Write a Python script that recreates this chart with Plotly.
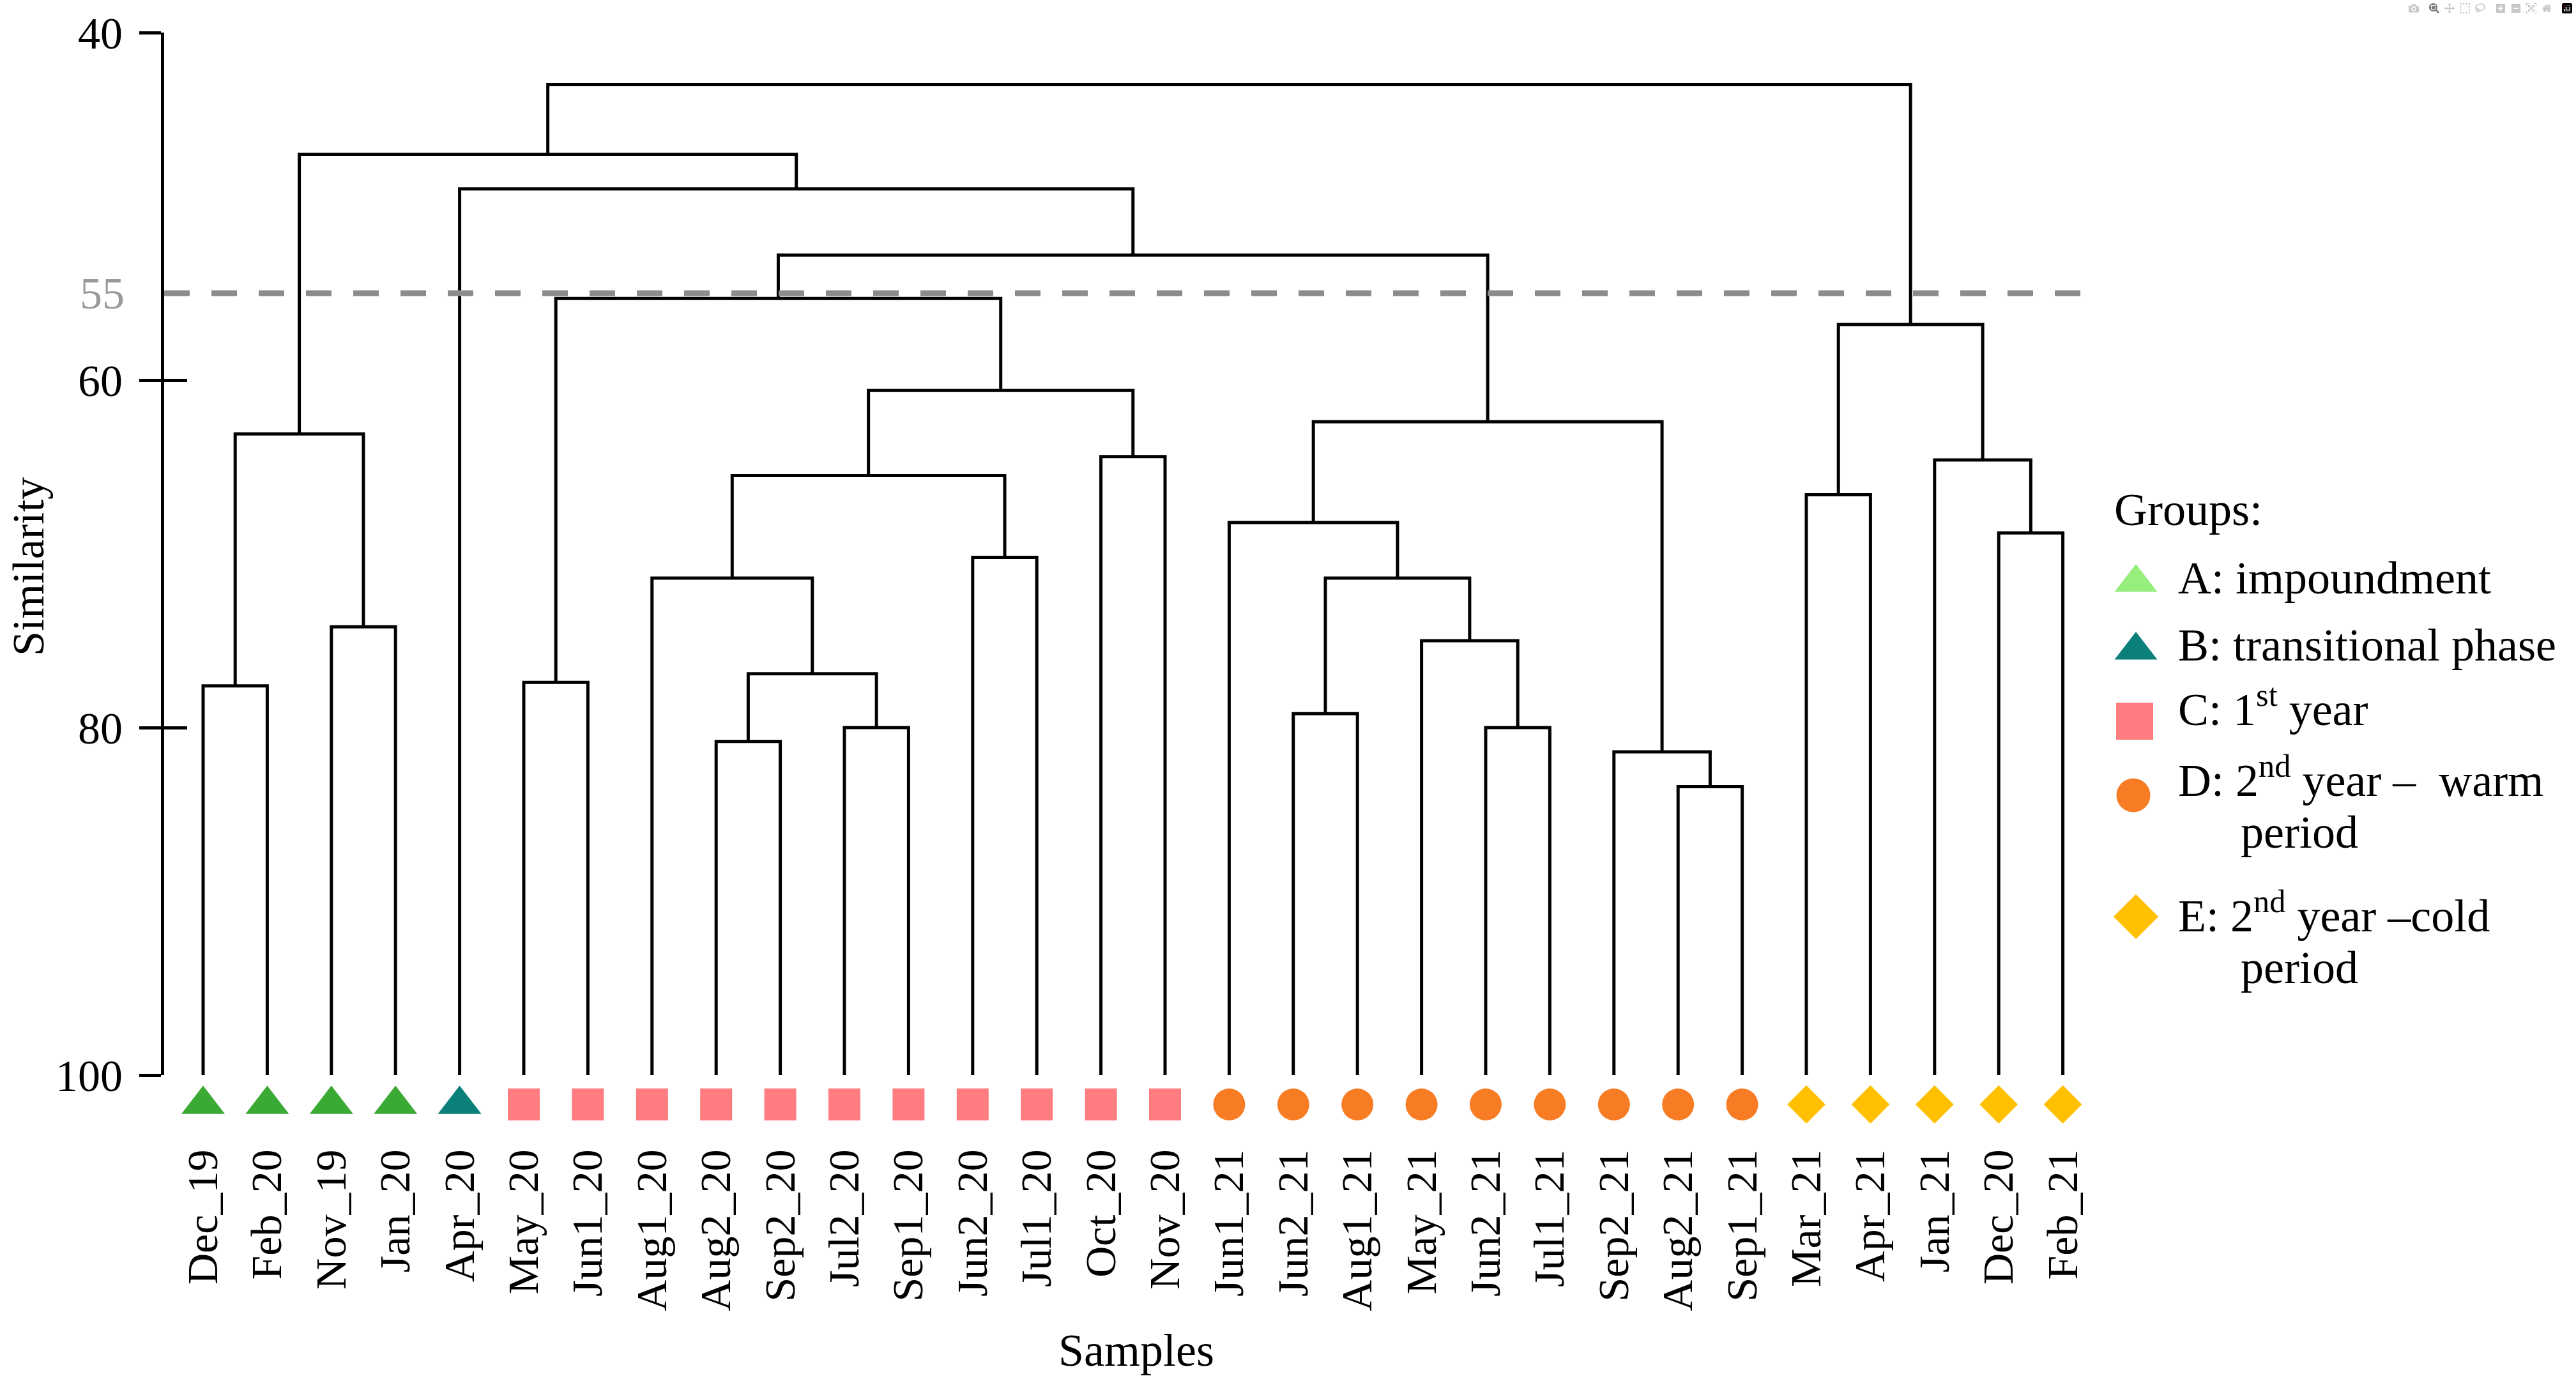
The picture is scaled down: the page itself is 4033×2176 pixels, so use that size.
import plotly.graph_objects as go

# ---------------- data ----------------
samples = ["Dec_19", "Feb_20", "Nov_19", "Jan_20", "Apr_20", "May_20", "Jun1_20",
           "Aug1_20", "Aug2_20", "Sep2_20", "Jul2_20", "Sep1_20", "Jun2_20", "Jul1_20",
           "Oct_20", "Nov_20", "Jun1_21", "Jun2_21", "Aug1_21", "May_21", "Jun2_21",
           "Jul1_21", "Sep2_21", "Aug2_21", "Sep1_21", "Mar_21", "Apr_21", "Jan_21",
           "Dec_20", "Feb_21"]
sample_groups = ["A"] * 4 + ["B"] + ["C"] * 11 + ["D"] * 9 + ["E"] * 5

# merges: children are leaf indices (0-29) or earlier merge ids (30 + merge number)
merge_left = [0, 2, 30, 5, 8, 10, 34, 7, 12, 37, 14, 39, 33, 17, 20, 19, 43, 16,
              23, 22, 47, 42, 4, 32, 25, 28, 27, 54, 53]
merge_right = [1, 3, 31, 6, 9, 11, 35, 36, 13, 38, 15, 40, 41, 18, 21, 44, 45, 46,
               24, 48, 49, 50, 51, 52, 26, 29, 55, 56, 57]
merge_similarity = [77.6, 74.2, 63.1, 77.4, 80.8, 80.0, 76.9, 71.4, 70.2, 65.5, 64.4,
                    60.6, 55.3, 79.2, 80.0, 75.0, 71.4, 68.2, 83.4, 81.4, 62.4, 52.8,
                    49.0, 47.0, 66.6, 68.8, 64.6, 56.8, 43.0]
cut_similarity = 55
y_ticks = [40, 60, 80, 100]

group_keys = ["A", "B", "C", "D", "E"]
group_names = ["A: impoundment", "B: transitional phase", "C: 1<sup>st</sup> year",
               "D: 2<sup>nd</sup> year –  warm", "E: 2<sup>nd</sup> year –cold"]
group_second_line = ["", "", "", "period", "period"]

# ---------------- styles ----------------
W, H = 4033, 2176
SERIF = "Liberation Serif"
sym = {"A": "triangle-up", "B": "triangle-up", "C": "square", "D": "circle", "E": "diamond"}
col = {"A": "#3AAA35", "B": "#0B7F79", "C": "#FF7C80", "D": "#F77C24", "E": "#FFC000"}
leg_col = {"A": "#96EE7C", "B": "#0B7F79", "C": "#FF7C80", "D": "#F77C24", "E": "#FFC000"}
msize = {"A": 59, "B": 59, "C": 50, "D": 50, "E": 46}
leg_size = {"A": 58, "B": 58, "C": 58, "D": 53, "E": 54}

def px_x(p):
    return p / W

def px_y(p):
    return 1 - p / H

# ---------------- dendrogram geometry ----------------
n = len(samples)
node_x = list(range(n))
node_h = [100.0] * n
lx, ly = [], []
for l, r, h in zip(merge_left, merge_right, merge_similarity):
    xl, xr = node_x[l], node_x[r]
    lx += [xl, xl, xr, xr, None]
    ly += [node_h[l], h, h, node_h[r], None]
    node_x.append((xl + xr) / 2)
    node_h.append(h)

fig = go.Figure()
fig.add_trace(go.Scatter(x=lx, y=ly, mode="lines", xaxis="x", yaxis="y",
                         line=dict(color="black", width=5), hoverinfo="skip",
                         showlegend=False))
fig.add_trace(go.Scatter(x=[], y=[], xaxis="x", yaxis="y2", showlegend=False))

for g in group_keys:
    idx = [i for i, s in enumerate(sample_groups) if s == g]
    fig.add_trace(go.Scatter(x=idx, y=[0] * len(idx), mode="markers",
                             xaxis="x", yaxis="y3", showlegend=False,
                             marker=dict(symbol=sym[g], color=col[g], size=msize[g],
                                         line=dict(width=0))))

# manual legend (pixel coordinate axis)
leg_marker_x = [3344, 3344, 3342, 3340, 3344]
leg_marker_y = [912, 1018, 1129, 1245, 1435]
leg_text_y = [905, 1010, 1105, 1216, 1428]
leg_text2_y = [None, None, None, 1303, 1515]
for i, g in enumerate(group_keys):
    fig.add_trace(go.Scatter(x=[leg_marker_x[i]], y=[leg_marker_y[i]], mode="markers",
                             xaxis="x2", yaxis="y4", showlegend=False,
                             marker=dict(symbol=sym[g], color=leg_col[g], size=leg_size[g],
                                         line=dict(width=0))))

xl0 = 257
xr0 = 3270
leaf0 = 318
step = 100.4
x_range = [(xl0 - leaf0) / step, (xr0 - leaf0) / step]

fig.update_layout(
    width=W, height=H, autosize=False,
    margin=dict(l=0, r=0, t=0, b=0, pad=0, autoexpand=False),
    paper_bgcolor="white", plot_bgcolor="rgba(0,0,0,0)",
    showlegend=False,
    xaxis=dict(domain=[px_x(xl0), px_x(xr0)], range=x_range, anchor="y3",
               tickmode="array", tickvals=list(range(n)), ticktext=samples,
               tickangle=-90, ticks="", showline=False, showgrid=False, zeroline=False,
               automargin=False,
               tickfont=dict(family=SERIF, size=68, color="black"),
               ticklabelstandoff=10),
    yaxis=dict(domain=[px_y(1683), px_y(51)], range=[100, 40], anchor="x",
               tickmode="array", tickvals=y_ticks, ticks="outside", ticklen=34,
               tickwidth=5, tickcolor="black", showline=True, linewidth=5,
               linecolor="black", showgrid=False, zeroline=False, automargin=False,
               tickfont=dict(family=SERIF, size=70, color="black"),
               ticklabelstandoff=12),
    yaxis2=dict(overlaying="y", range=[100, 40], anchor="x", side="left",
                tickmode="array", tickvals=y_ticks, ticks="inside", ticklen=36,
                tickwidth=5, tickcolor="black", showticklabels=False, automargin=False,
                showline=False, showgrid=False, zeroline=False),
    yaxis3=dict(domain=[px_y(1775), px_y(1683)], range=[-1, 1], anchor="x",
                visible=False, automargin=False),
    xaxis2=dict(domain=[px_x(xr0), 1], range=[xr0, W], anchor="y4", visible=False,
                automargin=False),
    yaxis4=dict(domain=[0, 1], range=[H, 0], anchor="x2", visible=False,
                automargin=False),
)

fig.add_shape(type="line", xref="x", yref="y", x0=x_range[0], x1=29.29,
              y0=cut_similarity, y1=cut_similarity, layer="above",
              line=dict(color="#8C8C8C", width=9, dash="40px,34px"))

ann = []
ann.append(dict(text=str(cut_similarity), xref="paper", yref="y", x=px_x(197),
                y=cut_similarity, xanchor="right", yanchor="middle", showarrow=False,
                font=dict(family=SERIF, size=70, color="#9A9A9A")))
ann.append(dict(text="Similarity", xref="paper", yref="paper", x=px_x(44),
                y=px_y(887), textangle=-90, showarrow=False,
                xanchor="center", yanchor="middle",
                font=dict(family=SERIF, size=70, color="black")))
ann.append(dict(text="Samples", xref="paper", yref="paper", x=px_x(1779),
                y=px_y(2114), showarrow=False, xanchor="center", yanchor="middle",
                font=dict(family=SERIF, size=72, color="black")))
ann.append(dict(text="Groups:", xref="paper", yref="paper", x=px_x(3308),
                y=px_y(798), showarrow=False, xanchor="left", yanchor="middle",
                font=dict(family=SERIF, size=72, color="black")))
for i, g in enumerate(group_keys):
    ann.append(dict(text=group_names[i], xref="paper", yref="paper", x=px_x(3408),
                    y=px_y(leg_text_y[i]), showarrow=False, xanchor="left",
                    yanchor="middle", font=dict(family=SERIF, size=72, color="black")))
    if group_second_line[i]:
        ann.append(dict(text=group_second_line[i], xref="paper", yref="paper",
                        x=px_x(3506), y=px_y(leg_text2_y[i]), showarrow=False,
                        xanchor="left", yanchor="middle",
                        font=dict(family=SERIF, size=72, color="black")))
fig.update_layout(annotations=ann)

fig.write_html("out.html", post_script="document.body.style.margin='0';")
